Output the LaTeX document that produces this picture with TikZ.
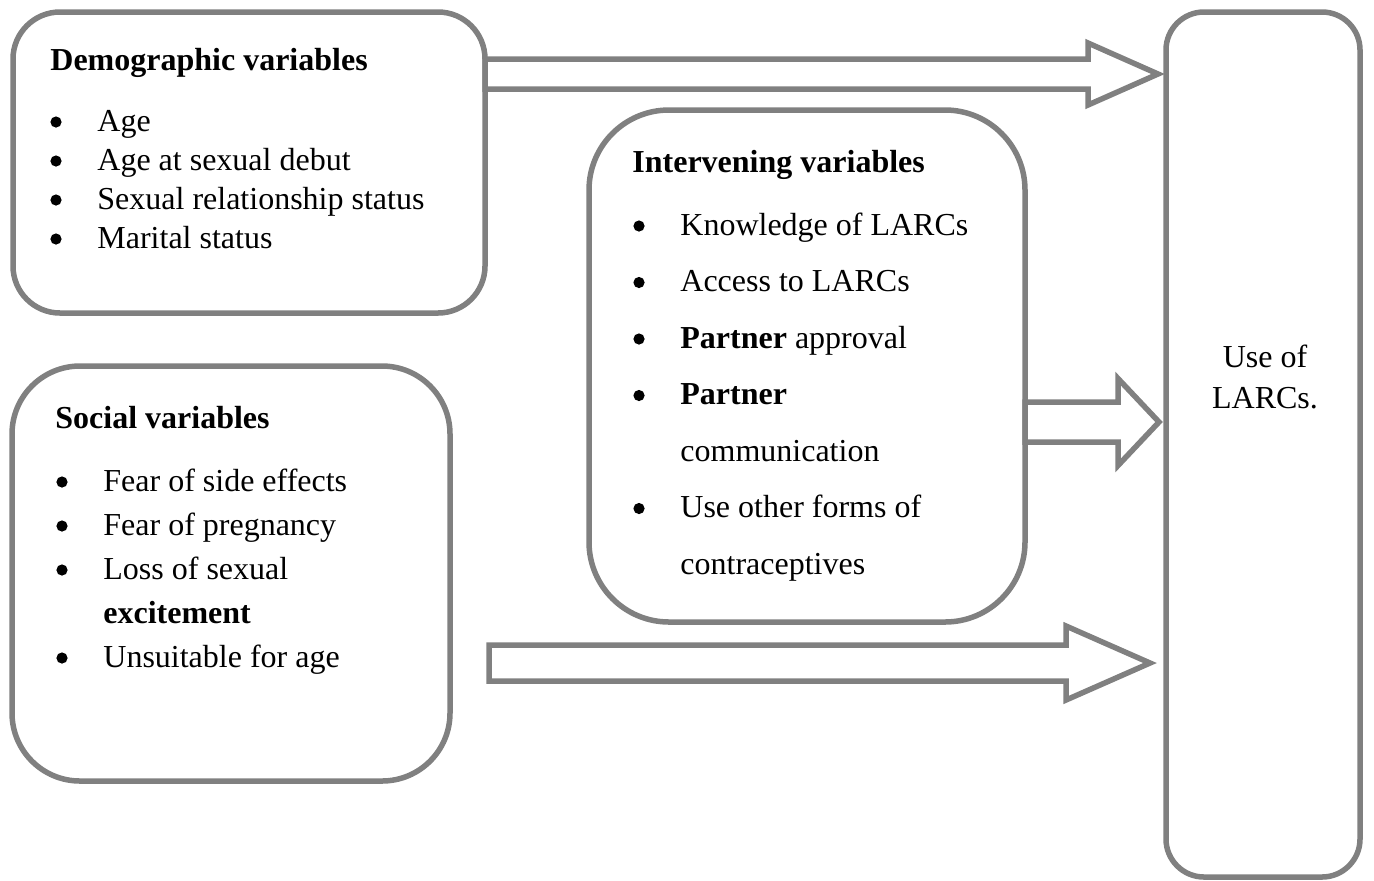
\documentclass[tikz,border=0pt]{standalone}
\usepackage{fontspec}
\setmainfont{Liberation Serif}
\usetikzlibrary{calc}

% hollow block arrow: from, tip, shaft half, head half, head length
\newcommand{\blockarrow}[5]{%
  \draw[arrowline] ($(#1)+(0,-#3)$) -- ($(#2)+(-#5,-#3)$) -- ($(#2)+(-#5,-#4)$)
    -- (#2) -- ($(#2)+(-#5,#4)$) -- ($(#2)+(-#5,#3)$) -- ($(#1)+(0,#3)$) -- cycle;}

\begin{document}
\begin{tikzpicture}[x=0.5pt, y=-0.5pt,
boxnode/.style={draw=gray, line width=2.75pt, rectangle, inner sep=0pt, outer sep=0pt, anchor=north west},
txt/.style={anchor=base west, inner sep=0pt, font=\fontsize{16pt}{19pt}\selectfont},
dot/.style={circle, fill=black, inner sep=0pt, minimum size=5.6pt},
arrowline/.style={draw=gray, line width=2.75pt, line join=miter},
]
\useasboundingbox (0,0) rectangle (1374,880);

%Boxes
\node[boxnode, minimum width=236pt, minimum height=150.5pt, rounded corners=23.5pt] (demo)   at (13,12)   {};
\node[boxnode, minimum width=219pt, minimum height=207.5pt, rounded corners=34pt]   (social) at (12,366)  {};
\node[boxnode, minimum width=218pt, minimum height=256pt,   rounded corners=40pt]   (interv) at (589,110) {};
\node[boxnode, minimum width=97pt,  minimum height=432.5pt, rounded corners=19pt]   (use)    at (1166,12) {};

%Demographic variables
\node[txt] (demotitle) at (50,70)  {\textbf{Demographic variables}};
\node[dot] at (56,122) {}; \node[txt] (age)     at (97,131) {Age};
\node[dot] at (56,161) {}; \node[txt] (debut)   at (97,170) {Age at sexual debut};
\node[dot] at (56,200) {}; \node[txt] (relstat) at (97,209) {Sexual relationship status};
\node[dot] at (56,239) {}; \node[txt] (marital) at (97,248) {Marital status};

%Social variables
\node[txt] (socialtitle) at (55,428) {\textbf{Social variables}};
\node[dot] at (62,482) {}; \node[txt] (fearside)  at (103,491) {Fear of side effects};
\node[dot] at (62,526) {}; \node[txt] (fearpreg)  at (103,535) {Fear of pregnancy};
\node[dot] at (62,570) {}; \node[txt] (loss)      at (103,579) {Loss of sexual};
                           \node[txt] (excite)    at (103,623) {\textbf{excitement}};
\node[dot] at (62,658) {}; \node[txt] (unsuit)    at (103,667) {Unsuitable for age};

%Intervening variables
\node[txt] (intervtitle) at (632,172) {\textbf{Intervening variables}};
\node[dot] at (639,226)   {}; \node[txt] (know)     at (680,235)   {Knowledge of LARCs};
\node[dot] at (639,282.5) {}; \node[txt] (access)   at (680,291.5) {Access to LARCs};
\node[dot] at (639,339)   {}; \node[txt] (approval) at (680,348)   {\textbf{Partner} approval};
\node[dot] at (639,395.5) {}; \node[txt] (partner)  at (680,404.5) {\textbf{Partner}};
                              \node[txt] (comm)     at (680,461)   {communication};
\node[dot] at (639,508.5) {}; \node[txt] (other)    at (680,517.5) {Use other forms of};
                              \node[txt] (contra)   at (680,574)   {contraceptives};

%Outcome
\node[anchor=base, inner sep=0pt, font=\fontsize{16pt}{19pt}\selectfont] (usetxt1) at (1265,367) {Use of};
\node[anchor=base, inner sep=0pt, font=\fontsize{16pt}{19pt}\selectfont] (usetxt2) at (1265,408) {LARCs.};

%Arrows
\path (0,74) coordinate (r1) (0,422) coordinate (r2) (0,663) coordinate (r3);
\coordinate (tip1) at ($(use.west|-r1)+(-8,0)$);
\coordinate (tip2) at ($(use.west|-r2)+(-7,0)$);
\coordinate (tip3) at ($(use.west|-r3)+(-16,0)$);
\coordinate (tail3) at (489,663);
\blockarrow{demo.east|-r1}{tip1}{15}{31}{70}
\blockarrow{interv.east|-r2}{tip2}{20}{43.5}{41}
\blockarrow{tail3}{tip3}{18}{37}{84}
\end{tikzpicture}
\end{document}
